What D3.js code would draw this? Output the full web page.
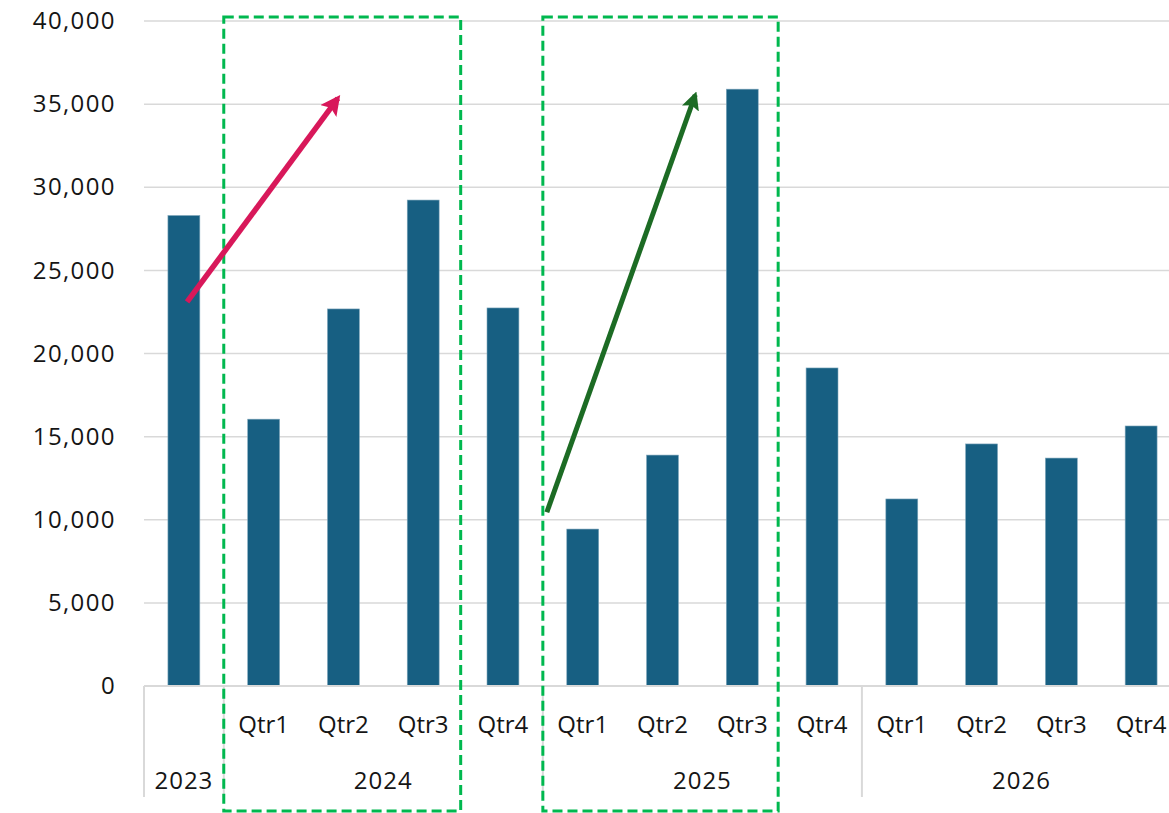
<!DOCTYPE html>
<html>
<head>
<meta charset="utf-8">
<script src="https://cdn.jsdelivr.net/npm/d3@7"></script>
<style>
  html, body { margin: 0; padding: 0; background: #fff; }
  svg { display: block; }
  text { font-family: "Open Sans", "Noto Sans", sans-serif; font-weight: 400; fill: #151515; }
</style>
</head>
<body>
<svg id="chart" width="1169" height="813"></svg>
<script>
// ---- data ----
const years = ["2023", "2024", "2025", "2026"];
const quarterLabels = ["", "Qtr1", "Qtr2", "Qtr3", "Qtr4", "Qtr1", "Qtr2", "Qtr3", "Qtr4", "Qtr1", "Qtr2", "Qtr3", "Qtr4"];
const yearOf = ["2023", "2024", "2024", "2024", "2024", "2025", "2025", "2025", "2025", "2026", "2026", "2026", "2026"];
const values = [28300, 16050, 22680, 29230, 22740, 9440, 13890, 35900, 19130, 11250, 14560, 13710, 15640];
const yTicks = [0, 5000, 10000, 15000, 20000, 25000, 30000, 35000, 40000];
// annotation arrows: [x in category units, value]
const pinkArrow = [[0.54, 23100], [2.43, 35350]];
const greenArrow = [[5.05, 10450], [6.91, 35550]];
// highlight boxes: category span (from, to)
const boxes = [[1.0, 3.97], [5.0, 7.95]];

// ---- layout ----
const svg = d3.select("#chart");
const mLeft = 144, mRight = 1181, mTop = 21, mBottom = 686, axisBottom = 797;

const idx = d3.range(values.length);
const x = d3.scaleBand().domain(idx).range([mLeft, mRight]).paddingInner(0.6).paddingOuter(0.3);
const xu = d3.scaleLinear().domain([0, values.length]).range([mLeft, mRight]);
const y = d3.scaleLinear().domain([0, 40000]).range([mBottom, mTop]);

// gridlines
svg.append("g").selectAll("line").data(yTicks.filter(d => d > 0)).join("line")
  .attr("x1", mLeft).attr("x2", 1169)
  .attr("y1", d => y(d)).attr("y2", d => y(d))
  .attr("stroke", "#d9d9d9").attr("stroke-width", 1.5);

// y labels
const yAxis = d3.axisLeft(y).tickValues(yTicks).tickFormat(d3.format(",")).tickSize(0).tickPadding(0);
const ya = svg.append("g").attr("transform", `translate(116,0)`).call(yAxis);
ya.select(".domain").remove();
ya.selectAll("text").attr("font-size", 24).attr("fill", "#151515")
  .style("font-family", '"Open Sans", sans-serif').style("font-weight", 400)
  .style("letter-spacing", "1.4px");

// bars
svg.append("g").selectAll("rect").data(idx).join("rect")
  .attr("x", i => x(i)).attr("width", x.bandwidth())
  .attr("y", i => y(values[i])).attr("height", i => y(0) - y(values[i]))
  .attr("fill", "#175f82").attr("stroke", "#7fa6bb").attr("stroke-width", 0.6);

// x axis line
svg.append("line").attr("x1", mLeft).attr("x2", 1169).attr("y1", mBottom).attr("y2", mBottom)
  .attr("stroke", "#d9d9d9").attr("stroke-width", 2);

// group separators
const groupStarts = years.map(yr => yearOf.indexOf(yr));
const boundaries = groupStarts.map(i => xu(i));
svg.append("g").selectAll("line").data(boundaries).join("line")
  .attr("x1", d => d).attr("x2", d => d).attr("y1", mBottom).attr("y2", axisBottom)
  .attr("stroke", "#d9d9d9").attr("stroke-width", 2);

// quarter labels
svg.append("g").selectAll("text").data(idx).join("text")
  .attr("x", i => x(i) + x.bandwidth() / 2).attr("y", 724)
  .attr("text-anchor", "middle").attr("dy", "0.36em").attr("font-size", 24)
  .text(i => quarterLabels[i]);

// year labels
svg.append("g").selectAll("text").data(years).join("text")
  .attr("x", yr => {
    const s = yearOf.indexOf(yr), e = yearOf.lastIndexOf(yr) + 1;
    return (xu(s) + xu(e)) / 2;
  })
  .attr("y", 780).attr("text-anchor", "middle").attr("dy", "0.36em").attr("font-size", 24)
  .style("letter-spacing", "1px")
  .text(d => d);

// dashed boxes
svg.append("g").selectAll("rect").data(boxes).join("rect")
  .attr("x", d => xu(d[0])).attr("width", d => xu(d[1]) - xu(d[0]))
  .attr("y", 17).attr("height", 794)
  .attr("fill", "none").attr("stroke", "#00b84f").attr("stroke-width", 3)
  .attr("stroke-dasharray", "10,5");

// arrows
const defs = svg.append("defs");
function marker(id, color) {
  defs.append("marker").attr("id", id).attr("viewBox", "0 0 10 10")
    .attr("refX", 8).attr("refY", 5).attr("markerWidth", 3.6).attr("markerHeight", 3.6)
    .attr("orient", "auto").attr("markerUnits", "strokeWidth")
    .append("path").attr("d", "M0,0 L10,5 L0,10 L2,5 Z").attr("fill", color);
}
marker("headPink", "#d8185a");
marker("headGreen", "#1c6b24");
function arrow(pts, color, mid, w) {
  svg.append("line")
    .attr("x1", xu(pts[0][0])).attr("y1", y(pts[0][1]))
    .attr("x2", xu(pts[1][0])).attr("y2", y(pts[1][1]))
    .attr("stroke", color).attr("stroke-width", w)
    .attr("marker-end", `url(#${mid})`);
}
arrow(pinkArrow, "#d8185a", "headPink", 5.5);
arrow(greenArrow, "#1c6b24", "headGreen", 5);
</script>
</body>
</html>
